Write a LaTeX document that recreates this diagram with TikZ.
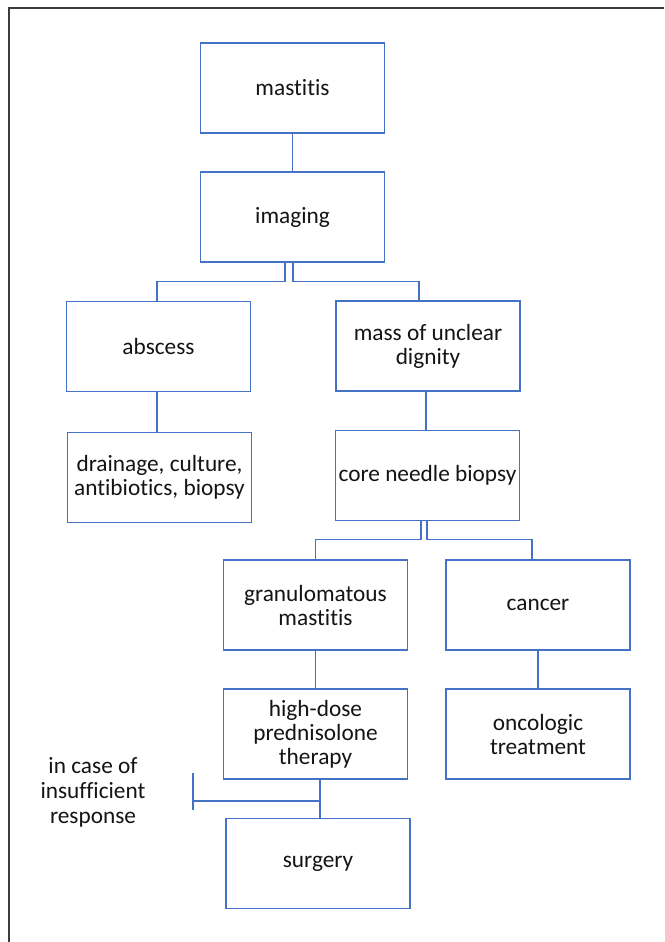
\documentclass[tikz,border=0pt]{standalone}
\usepackage{fontspec}
\setmainfont[Ligatures=NoCommon]{Carlito}
\definecolor{boxblue}{RGB}{68,114,196}
\definecolor{txt}{RGB}{20,20,20}
\definecolor{frame}{RGB}{60,60,60}
\begin{document}
\begin{tikzpicture}[x=1pt,y=-1pt,
  box/.style={draw=boxblue,line width=1.4pt,minimum width=184pt,minimum height=90pt,
    inner sep=2pt,align=center,text=txt,font=\fontsize{23.3}{24}\selectfont},
  link/.style={draw=boxblue,line width=1.3pt},
  lbl/.style={align=center,text=txt,font=\fontsize{23.3}{25}\selectfont}]
\useasboundingbox (0,0) rectangle (664,942);
\fill[white] (0,0) rectangle (664,942);
\draw[frame,line width=2pt] (8.5,942) -- (8.5,8) -- (664,8);

\node[box] (mast) at (292.5,88) {mastitis};
\node[box] (img) at (292.5,217) {imaging};
\node[box] (absc) at (158.5,346.5) {abscess};
\node[box] (drain) at (159.5,477.5) {drainage, culture,\\antibiotics, biopsy};
\node[box] (mass) at (428,346) {mass of unclear\\dignity};
\node[box] (cnb) at (427.5,475.5) {core needle biopsy};
\node[box] (gm) at (315.5,605) {granulomatous\\mastitis};
\node[box] (canc) at (538,605) {cancer};
\node[box] (hdp) at (315.5,734) {high-dose\\prednisolone\\therapy};
\node[box] (onc) at (538,734) {oncologic\\treatment};
\node[box] (surg) at (318,863.5) {surgery};
\node[lbl] (resp) at (93,792) {in case of\\insufficient\\response};

\draw[link] (mast) -- (img);
\draw[link] ([xshift=-7.5pt]img.south) -- ++(0,19) -| ([xshift=-1.5pt]absc.north);
\draw[link] ([xshift=0.5pt]img.south) -- ++(0,19) -| ([xshift=-9pt]mass.north);
\draw[link] ([xshift=-1.5pt]absc.south) -- ([xshift=-2.5pt]drain.north);
\draw[link] ([xshift=-2pt]mass.south) -- ([xshift=-1.5pt]cnb.north);
\draw[link] ([xshift=-6.5pt]cnb.south) -- ++(0,18) -| (gm.north);
\draw[link] ([xshift=-0.5pt]cnb.south) -- ++(0,18) -| ([xshift=-6pt]canc.north);
\draw[link] (gm) -- (hdp);
\draw[link] (canc) -- (onc);
\draw[link] ([xshift=4.5pt]hdp.south) -- ([xshift=2pt]surg.north);
\coordinate (tick) at (193,801);
\draw[link] ([xshift=4.5pt]hdp.south |- tick) -- (tick);
\draw[link] (193,773) -- (193,810);
\end{tikzpicture}
\end{document}
